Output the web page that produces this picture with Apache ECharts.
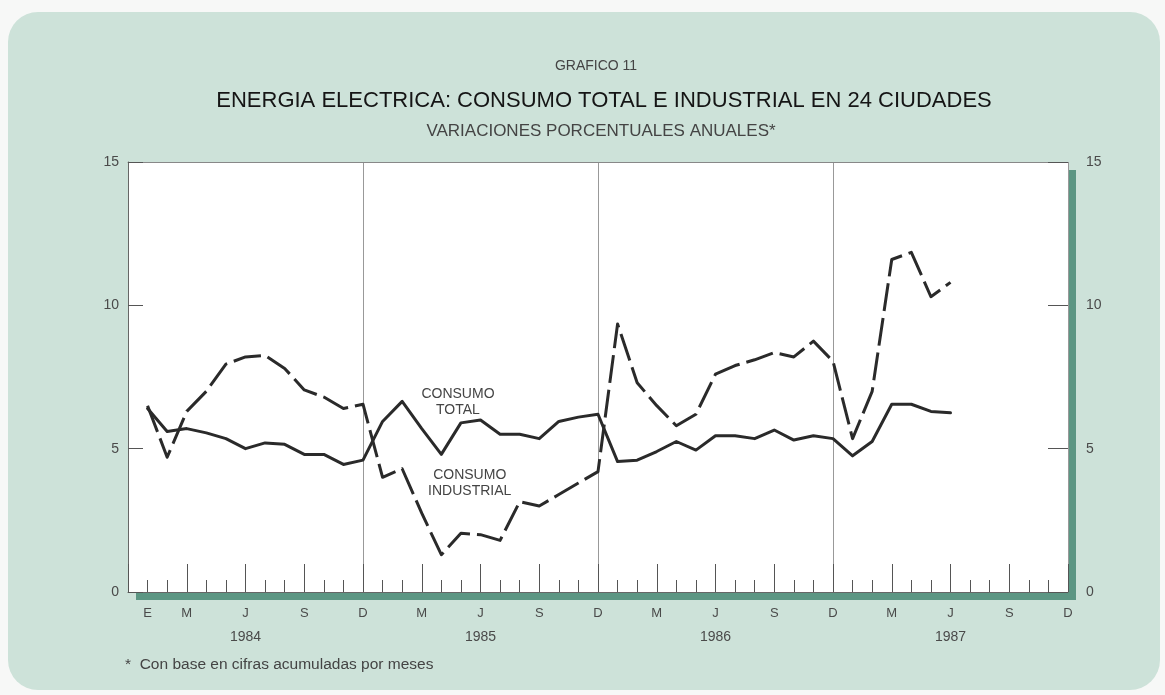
<!DOCTYPE html>
<html><head><meta charset="utf-8">
<script src="https://cdn.jsdelivr.net/npm/echarts@6/dist/echarts.min.js"></script>
<style>
html,body{margin:0;padding:0;background:#f7f8f7;}
#card{position:absolute;left:8px;top:12px;width:1152px;height:678px;background:#cde2d9;border-radius:30px;}
#chart{position:absolute;left:0;top:0;width:1165px;height:695px;}
</style></head><body>
<div id="card"></div>
<div id="chart"></div>
<script>
// Monthly data, January 1984 (month 1) to June 1987 (month 42)
const firstMonth = 1;
const totalValues = [
  6.4, 5.6, 5.7, 5.55, 5.35, 5.0, 5.2, 5.15, 4.8, 4.8, 4.45, 4.6,
  5.95, 6.65, 5.7, 4.8, 5.9, 6.0, 5.5, 5.5, 5.35, 5.95, 6.1, 6.2,
  4.55, 4.6, 4.9, 5.25, 4.95, 5.45, 5.45, 5.35, 5.65, 5.3, 5.45, 5.35,
  4.75, 5.25, 6.55, 6.55, 6.3, 6.25
];
const industrialValues = [
  6.5, 4.7, 6.3, 7.0, 7.95, 8.2, 8.25, 7.8, 7.05, 6.8, 6.4, 6.55,
  4.0, 4.3, 2.75, 1.3, 2.05, 2.0, 1.8, 3.15, 3.0, 3.4, 3.8, 4.2,
  9.35, 7.3, 6.5, 5.8, 6.2, 7.6, 7.9, 8.1, 8.35, 8.2, 8.75, 8.05,
  5.35, 7.0, 11.6, 11.85, 10.3, 10.8
];
const monthTickLabels = [
  [1,'E'],[3,'M'],[6,'J'],[9,'S'],[12,'D'],
  [15,'M'],[18,'J'],[21,'S'],[24,'D'],
  [27,'M'],[30,'J'],[33,'S'],[36,'D'],
  [39,'M'],[42,'J'],[45,'S'],[48,'D']
];
const yearTickLabels = [[6,'1984'],[18,'1985'],[30,'1986'],[42,'1987']];
const yTickLabels = ['0','5','10','15'];
const monthsSpan = [0, 48];

const monthMap = Object.fromEntries(monthTickLabels);
const yearMap = Object.fromEntries(yearTickLabels);
const FONT = "'Liberation Sans', Arial, Helvetica, sans-serif";
const TXT = '#4a4a4a';

const chart = echarts.init(document.getElementById('chart'), null, {renderer:'canvas'});
const xBase = {type:'value', min:monthsSpan[0], max:monthsSpan[1], gridIndex:0, position:'bottom',
  splitLine:{show:false}, axisLine:{show:false, onZero:false}, axisTick:{show:false}, axisLabel:{show:false}};

chart.setOption({
  animation:false,
  backgroundColor:'transparent',
  textStyle:{fontFamily:FONT},
  graphic:[
    {type:'text', x:596, y:66, style:{text:'GRAFICO 11', fontSize:14, fontFamily:FONT, fill:'#444', align:'center', verticalAlign:'middle'}},
    {type:'text', x:604, y:101, style:{text:'ENERGIA ELECTRICA: CONSUMO TOTAL E INDUSTRIAL EN 24 CIUDADES', fontSize:22, fontFamily:FONT, fill:'#151515', align:'center', verticalAlign:'middle'}},
    {type:'text', x:601, y:131, style:{text:'VARIACIONES PORCENTUALES ANUALES*', fontSize:17, fontFamily:FONT, fill:'#444', align:'center', verticalAlign:'middle'}},
    {type:'text', x:125, y:665, style:{text:'*  Con base en cifras acumuladas por meses', fontSize:15.5, fontFamily:FONT, fill:'#444', align:'left', verticalAlign:'middle'}}
  ],
  grid:{left:128, right:97, top:162, bottom:103, show:true, backgroundColor:'#ffffff',
    borderWidth:0,
    shadowColor:'#5c9683', shadowOffsetX:8, shadowOffsetY:8, shadowBlur:0},
  xAxis:[
    Object.assign({}, xBase, {interval:1,
      axisLine:{show:true, onZero:false, lineStyle:{color:'#666', width:1}},
      axisTick:{show:true, inside:true, length:12, lineStyle:{color:'#555', width:1}},
      axisLabel:{show:true, margin:15, color:TXT, fontSize:13, fontFamily:FONT,
        formatter:v => monthMap[v] || ''}}),
    Object.assign({}, xBase, {interval:3,
      axisTick:{show:true, inside:true, length:28, lineStyle:{color:'#555', width:1}}}),
    Object.assign({}, xBase, {interval:12,
      splitLine:{show:true, lineStyle:{color:'#999', width:1}}}),
    Object.assign({}, xBase, {interval:6,
      axisLabel:{show:true, margin:38, color:TXT, fontSize:14, fontFamily:FONT,
        formatter:v => yearMap[v] || ''}}),
    Object.assign({}, xBase, {position:'top', interval:12,
      axisLine:{show:true, onZero:false, lineStyle:{color:'#888', width:1}}})
  ],
  yAxis:[
    {type:'value', min:0, max:15, interval:5, position:'left',
      axisLine:{show:true, onZero:false, lineStyle:{color:'#666'}},
      axisTick:{show:true, inside:true, length:15, lineStyle:{color:'#555'}},
      axisLabel:{margin:9, color:TXT, fontSize:14, fontFamily:FONT, formatter:v => yTickLabels[v/5]},
      splitLine:{show:false}},
    {type:'value', min:0, max:15, interval:5, position:'right',
      axisLine:{show:false, onZero:false},
      axisTick:{show:true, inside:true, length:20, lineStyle:{color:'#555'}},
      axisLabel:{margin:18, color:TXT, fontSize:14, fontFamily:FONT, formatter:v => yTickLabels[v/5]},
      splitLine:{show:false}}
  ],
  series:[
    {type:'line', name:'CONSUMO TOTAL', xAxisIndex:0, yAxisIndex:0, symbol:'none',
      data: totalValues.map((v,i) => [firstMonth + i, v]),
      lineStyle:{color:'#2a2a2a', width:3, cap:'round', join:'round'},
      markPoint:{symbol:'rect', symbolSize:1, itemStyle:{color:'rgba(0,0,0,0)'}, silent:true,
        label:{show:true, position:'inside', color:'#444', fontSize:14, lineHeight:16, fontFamily:FONT, align:'center'},
        data:[
          {name:'t', coord:[16.85, 6.63], label:{formatter:'CONSUMO\nTOTAL'}},
          {name:'i', coord:[17.45, 3.8], label:{formatter:'CONSUMO\nINDUSTRIAL'}}
        ]}},
    {type:'line', name:'CONSUMO INDUSTRIAL', xAxisIndex:0, yAxisIndex:0, symbol:'none',
      data: industrialValues.map((v,i) => [firstMonth + i, v]),
      lineStyle:{color:'#2a2a2a', width:3, type:[28,7], cap:'butt', join:'round'}}
  ]
});
</script>
</body></html>
